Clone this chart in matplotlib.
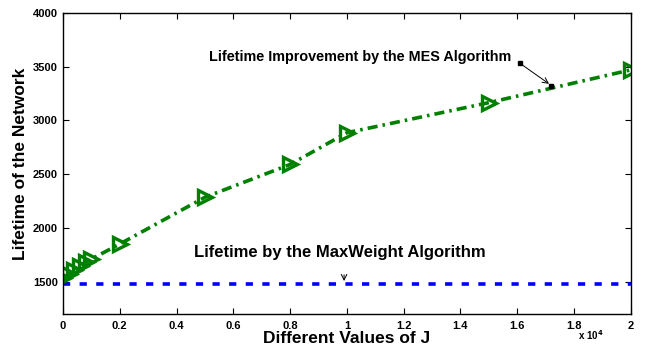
import matplotlib
matplotlib.use('Agg')
import matplotlib.pyplot as plt
import numpy as np

plt.rcParams['font.family'] = ['Liberation Sans', 'DejaVu Sans']
plt.rcParams['font.weight'] = 'bold'

# data
J = [0, 200, 400, 600, 800, 1000, 2000, 5000, 8000, 10000, 15000, 20000]
mes_lifetime = [1530, 1570, 1610, 1650, 1680, 1710, 1850, 2285, 2590, 2885, 3165, 3470]
maxweight_J = [0, 20000]
maxweight_lifetime = [1475, 1475]

fig = plt.figure(figsize=(6.46, 3.48), dpi=100)
ax = fig.add_axes([0.0975, 0.098, 0.879, 0.865])

ax.plot(maxweight_J, maxweight_lifetime, color='#0000ff', ls=(0, (2.0, 2.6)), lw=2.6)
ax.plot(J, mes_lifetime, color='#008000', ls=(0, (2.8, 1.4, 0.7, 1.4)), lw=2.6,
        marker='>', ms=10, mfc='none', mec='#008000', mew=2.4)

ax.set_xlim(0, 20000)
ax.set_ylim(1200, 4000)
ax.set_xticks(np.arange(0, 20001, 2000))
ax.set_xticklabels(['0', '0.2', '0.4', '0.6', '0.8', '1', '1.2', '1.4', '1.6', '1.8', '2'])
ax.set_yticks(np.arange(1500, 4001, 500))
ax.tick_params(direction='in', top=True, right=True, labelsize=8, length=4, width=0.8)
ax.tick_params(axis='x', pad=5)
for lab in ax.get_xticklabels() + ax.get_yticklabels():
    lab.set_fontweight('bold')
for s in ax.spines.values():
    s.set_linewidth(1.0)

ax.set_xlabel('Different Values of J', fontsize=12.5, fontweight='bold', labelpad=0)
ax.set_ylabel('Lifetime of the Network', fontsize=12.5, fontweight='bold', labelpad=4)
fig.text(0.935, 0.022, r'x 10$^{4}$', ha='right', va='baseline',
         fontsize=7, fontweight='bold')

ax.annotate('', xy=(17200, 3325), xytext=(16100, 3530),
            arrowprops=dict(arrowstyle='->', color='black', lw=0.7))
ax.plot([16100, 17200], [3530, 3320], ls='none', marker='s', ms=3, color='black')
ax.text(5130, 3590, 'Lifetime Improvement by the MES Algorithm', fontsize=10.4,
        fontweight='bold', va='center', ha='left')

ax.annotate('', xy=(9900, 1480), xytext=(9900, 1590),
            arrowprops=dict(arrowstyle='->', color='black', lw=0.7))
ax.text(4620, 1775, 'Lifetime by the MaxWeight Algorithm', fontsize=12,
        fontweight='bold', va='center', ha='left')

fig.savefig('out.png', dpi=100)
